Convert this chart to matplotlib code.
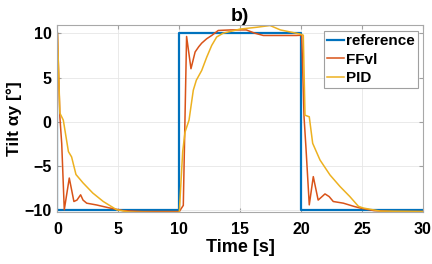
import matplotlib
matplotlib.use("Agg")
import matplotlib.pyplot as plt

plt.rcParams['font.family'] = ['Liberation Sans', 'DejaVu Sans']
plt.rcParams['font.weight'] = 'bold'

# reference step signal
ref_t = [0, 0, 10, 10, 20, 20, 30]
ref_y = [10, -10, -10, 10, 10, -10, -10]

# FFvl response
ff_t = [0, 0.2, 0.35, 0.56, 0.97, 1.35, 1.6, 1.9, 2.1, 2.4, 3.2, 4.3, 5.4, 7, 10.0,
        10.33, 10.6, 10.96, 11.3, 11.6, 11.84, 12.25, 12.66, 13.2, 14.2, 15.5, 16.2,
        16.9, 19.6, 20.05, 20.24, 20.4, 20.67, 21.0, 21.4, 21.96, 22.3, 22.64, 23.47,
        24.3, 24.84, 26, 27.6, 30]
ff_y = [10, 0.5, -2.5, -10, -6.4, -9.06, -8.9, -8.3, -8.9, -9.25, -9.45, -9.8, -10.1,
        -10.2, -10.2, -9.5, 9.66, 6.0, 7.9, 8.5, 8.9, 9.4, 9.77, 10.34, 10.4, 10.4,
        10.03, 9.77, 9.77, 9.8, 0.55, -3.0, -9.44, -6.24, -8.9, -8.2, -8.5, -9.06,
        -9.25, -9.6, -9.8, -10.1, -10.2, -10.2]

# PID response
pid_t = [0, 0.2, 0.48, 0.9, 1.16, 1.52, 2.1, 2.9, 3.76, 4.86, 5.95, 8, 10.0, 10.28,
         10.47, 10.8, 11.15, 11.4, 11.84, 12.25, 12.66, 13.07, 13.6, 15.0, 16.35,
         17.45, 18.3, 19.6, 20.0, 20.18, 20.32, 20.67, 20.95, 21.55, 22.37, 23.2,
         24.0, 24.7, 25.1, 26.5, 30]
pid_y = [10, 0.96, 0.17, -3.4, -4.0, -6.0, -6.95, -8.1, -9.06, -10.0, -10.26, -10.3,
         -10.3, -3.4, -1.2, 0.17, 3.56, 4.7, 5.8, 7.3, 8.64, 9.6, 10.03, 10.5, 10.7,
         10.9, 10.4, 10.03, 9.9, 9.8, 0.73, 0.55, -2.46, -4.35, -6.05, -7.37, -8.5,
         -9.6, -9.8, -10.15, -10.2]

fig = plt.figure(figsize=(4.32, 2.64), dpi=100)
ax = fig.add_axes([0.133, 0.197, 0.846, 0.708])

ax.plot(ref_t, ref_y, color='#0072BD', lw=1.6, label='reference')
ax.plot(ff_t, ff_y, color='#D95319', lw=1.1, label='FFvl')
ax.plot(pid_t, pid_y, color='#EDB120', lw=1.1, label='PID')

ax.set_xlim(0, 30)
ax.set_ylim(-10.25, 10.95)
ax.set_xticks([0, 5, 10, 15, 20, 25, 30])
ax.set_yticks([-10, -5, 0, 5, 10])
ax.tick_params(direction='in', length=3, color='#a0a0a0', labelsize=11.5,
               top=True, right=True)
ax.tick_params(axis='x', pad=7)
ax.tick_params(axis='y', pad=4.3)
for lbl in ax.get_xticklabels() + ax.get_yticklabels():
    lbl.set_fontweight('bold')
for s in ax.spines.values():
    s.set_color('#a8a8a8')
    s.set_linewidth(0.8)
ax.grid(True, color='#e6e6e6', lw=0.6)
ax.set_axisbelow(True)

ax.set_xlabel('Time [s]', fontsize=13, fontweight='bold')
ax.set_ylabel('Tilt αy [°]', fontsize=12.5, fontweight='bold')
ax.xaxis.set_label_coords(0.5, -0.145)
ax.yaxis.set_label_coords(-0.098, 0.5)
ax.set_title('b)', fontsize=14, fontweight='bold', pad=3)

leg = ax.legend(loc='upper right', prop={'weight': 'bold', 'size': 11},
                handlelength=1.1, handletextpad=0.15, borderpad=0.2,
                labelspacing=0.3, borderaxespad=0, fancybox=False, framealpha=1,
                bbox_to_anchor=(0.987, 0.968))
leg.get_frame().set_edgecolor('#a0a0a0')
leg.get_frame().set_linewidth(0.8)

fig.savefig('out.png', dpi=100)
